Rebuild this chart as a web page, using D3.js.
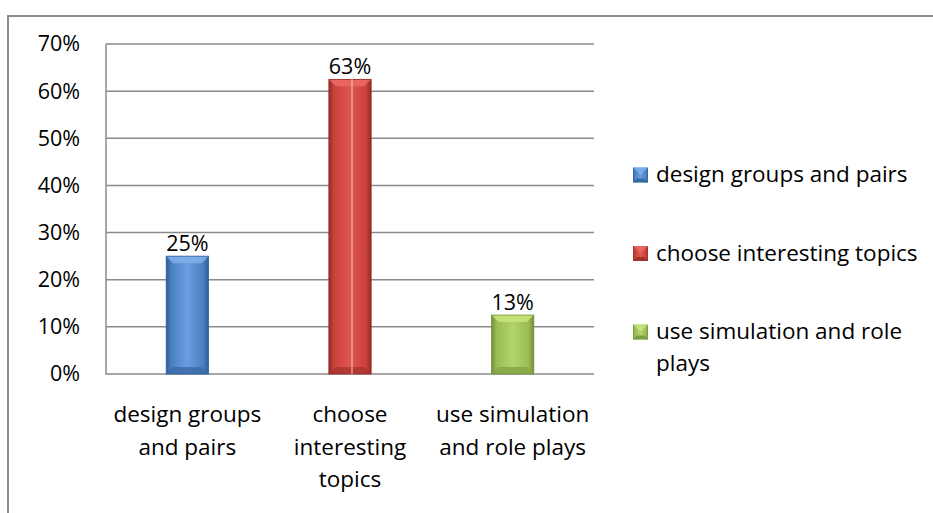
<!DOCTYPE html>
<html><head><meta charset="utf-8">
<script src="https://cdn.jsdelivr.net/npm/d3@7"></script>
<style>body{margin:0;background:#fff;}svg{display:block;font-family:"Open Sans", sans-serif;}</style>
</head><body>
<svg id="c" width="933" height="513"></svg>
<script>
const categories = ["design groups and pairs","choose interesting topics","use simulation and role plays"];
const values = [0.25, 0.625, 0.125];
const valueLabels = ["25%","63%","13%"];
const axisLabelLines = [["design groups","and pairs"],["choose","interesting","topics"],["use simulation","and role plays"]];
const legendLines = [["design groups and pairs"],["choose interesting topics"],["use simulation and role","plays"]];
const yTicks = [0,0.1,0.2,0.3,0.4,0.5,0.6,0.7];
const colors = [
  {main:"#4a7fc1", light:"#6a9ee0", dark:"#2e5e96", top:"#7fb0ea", bottom:"#3a6aa5"},
  {main:"#c9413c", light:"#e05550", dark:"#952a27", top:"#ec6a66", bottom:"#aa3430"},
  {main:"#9abb55", light:"#b2d46a", dark:"#728f37", top:"#c8e57d", bottom:"#84a445"}
];

const svg = d3.select("#c");
const FS = 22.5;   // words
const FN = 21.5;   // numbers
const FF = "'Open Sans', sans-serif";
const grid = "#8a8a8a";

// outer frame (clipped on right/bottom)
svg.append("rect").attr("x",8).attr("y",16).attr("width",1000).attr("height",600)
  .attr("fill","none").attr("stroke","#8c8c8c").attr("stroke-width",2);

const x = d3.scaleBand().domain(categories).range([106,594]).paddingInner(0.74).paddingOuter(0.37);
const y = d3.scaleLinear().domain([0,0.7]).range([374,44]);

// gridlines
svg.append("g").selectAll("line").data(yTicks).join("line")
  .attr("x1",106).attr("x2",594).attr("y1",d=>y(d)).attr("y2",d=>y(d))
  .attr("stroke",grid).attr("stroke-width",1.5);
svg.append("line").attr("x1",106).attr("x2",106).attr("y1",y(0.7)).attr("y2",y(0)+0.75)
  .attr("stroke",grid).attr("stroke-width",1.5);

// y labels
const yAxis = d3.axisLeft(y).tickValues(yTicks).tickFormat(d3.format(".0%")).tickSize(0).tickPadding(26);
const ga = svg.append("g").attr("transform","translate(106,0)").call(yAxis);
ga.select(".domain").remove();
ga.selectAll("text").attr("font-size",FN).attr("fill","#000").attr("font-family",FF);

// gradients
const defs = svg.append("defs");
colors.forEach((c,i)=>{
  const g = defs.append("linearGradient").attr("id","g"+i).attr("x1","0").attr("x2","1").attr("y1","0").attr("y2","0");
  g.append("stop").attr("offset","0").attr("stop-color",c.dark);
  g.append("stop").attr("offset","0.12").attr("stop-color",c.main);
  g.append("stop").attr("offset","0.5").attr("stop-color",c.light);
  g.append("stop").attr("offset","0.88").attr("stop-color",c.main);
  g.append("stop").attr("offset","1").attr("stop-color",c.dark);
});

const bev = 7;
const bars = svg.append("g").selectAll("g").data(categories).join("g");
bars.append("rect").attr("x",d=>x(d)).attr("y",(d,i)=>y(values[i])).attr("width",x.bandwidth())
  .attr("height",(d,i)=>y(0)-y(values[i])).attr("fill",(d,i)=>`url(#g${i})`);
bars.append("path").attr("d",(d,i)=>{const x0=x(d),x1=x0+x.bandwidth(),t=y(values[i]);
  return `M${x0},${t}L${x1},${t}L${x1-bev},${t+bev}L${x0+bev},${t+bev}Z`;})
  .attr("fill",(d,i)=>colors[i].top).attr("opacity",0.85);
bars.append("path").attr("d",(d,i)=>{const x0=x(d),x1=x0+x.bandwidth(),b=y(0);
  return `M${x0},${b}L${x1},${b}L${x1-bev},${b-bev}L${x0+bev},${b-bev}Z`;})
  .attr("fill",(d,i)=>colors[i].bottom).attr("opacity",0.8);
bars.append("rect").attr("x",d=>x(d)).attr("y",(d,i)=>y(values[i])).attr("width",x.bandwidth())
  .attr("height",(d,i)=>y(0)-y(values[i])).attr("fill","none").attr("stroke",(d,i)=>colors[i].dark).attr("stroke-width",0.8);
// thin light line on red bar
svg.append("line").attr("x1",x(categories[1])+x.bandwidth()/2+2).attr("x2",x(categories[1])+x.bandwidth()/2+2)
  .attr("y1",y(values[1])).attr("y2",y(0)).attr("stroke","#f4c4c2").attr("stroke-width",1);

// value labels
svg.append("g").selectAll("text").data(categories).join("text")
  .attr("x",d=>x(d)+x.bandwidth()/2).attr("y",(d,i)=>y(values[i])-5)
  .attr("text-anchor","middle").attr("font-size",FN).attr("fill","#000").text((d,i)=>valueLabels[i]);

// x labels
const xl = svg.append("g").selectAll("text").data(categories).join("text")
  .attr("text-anchor","middle").attr("font-size",FS).attr("fill","#000");
xl.each(function(d,i){
  d3.select(this).selectAll("tspan").data(axisLabelLines[i]).join("tspan")
    .attr("x",x(d)+x.bandwidth()/2).attr("y",(t,j)=>422+j*32.5).text(t=>t);
});

// legend
const legY = [175,253.5,332];
const lg = svg.append("g").selectAll("g").data(categories).join("g");
lg.append("rect").attr("x",633).attr("y",(d,i)=>legY[i]-7.5).attr("width",15).attr("height",15)
  .attr("fill",(d,i)=>`url(#g${i})`);
lg.append("path").attr("d",(d,i)=>{const t=legY[i]-7.5;return `M633,${t}L648,${t}L640.5,${t+7.5}Z`;})
  .attr("fill",(d,i)=>colors[i].top).attr("opacity",0.8);
lg.append("path").attr("d",(d,i)=>{const b=legY[i]+7.5;return `M633,${b}L648,${b}L644,${b-4}L637,${b-4}Z`;})
  .attr("fill",(d,i)=>colors[i].dark).attr("opacity",0.8);
lg.append("text").attr("font-size",FS).attr("fill","#000").each(function(d,i){
  d3.select(this).selectAll("tspan").data(legendLines[i]).join("tspan")
    .attr("x",656).attr("y",(t,j)=>legY[i]+7+j*32).text(t=>t);
});
</script>
</body></html>
